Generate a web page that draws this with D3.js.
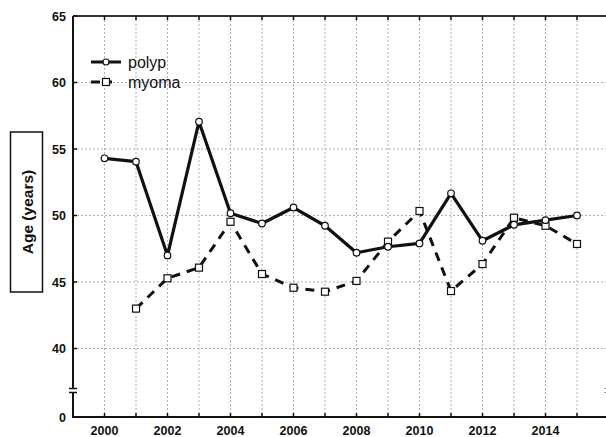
<!DOCTYPE html>
<html><head><meta charset="utf-8">
<script src="https://cdn.jsdelivr.net/npm/d3@7"></script>
<style>
body{margin:0;background:#fff;}
svg{display:block;font-family:"Liberation Sans",Arial,sans-serif;}
</style></head>
<body><svg id="c" width="606" height="437"></svg>
<script>
const years = [2000,2001,2002,2003,2004,2005,2006,2007,2008,2009,2010,2011,2012,2013,2014,2015];
const polyp = [54.3,54.05,47.0,57.05,50.17,49.4,50.6,49.23,47.2,47.65,47.9,51.67,48.1,49.3,49.65,50.0];
const myomaYears = [2001,2002,2003,2004,2005,2006,2007,2008,2009,2010,2011,2012,2013,2014,2015];
const myoma = [43.0,45.28,46.08,49.53,45.6,44.57,44.27,45.08,48.03,50.34,44.32,46.35,49.83,49.23,47.86];
const xTicks = [2000,2002,2004,2006,2008,2010,2012,2014];
const yTicks = [40,45,50,55,60,65];
const yBottomLabel = "0";
const seriesNames = ["polyp","myoma"];
const yLabel = "Age (years)";

const svg = d3.select("#c");
const L=73, R=608.5, T=16, B=417;
const x = d3.scaleLinear().domain([1999,2016]).range([L,R]);
const y = d3.scaleLinear().domain([34.85,65]).range([B,T]);

// grid
const g = svg.append("g");
const gridYears = d3.range(2000,2016);
g.selectAll(".vg").data(gridYears).join("line")
  .attr("x1",d=>x(d)).attr("x2",d=>x(d)).attr("y1",T).attr("y2",B)
  .attr("stroke","#b0b0b0").attr("stroke-width",1).attr("stroke-dasharray","2,2");
g.selectAll(".hg").data(yTicks.filter(v=>v<65)).join("line")
  .attr("x1",L).attr("x2",R).attr("y1",d=>y(d)).attr("y2",d=>y(d))
  .attr("stroke","#b0b0b0").attr("stroke-width",1).attr("stroke-dasharray","2,2");

// frame
svg.append("line").attr("x1",L).attr("x2",R+2).attr("y1",T).attr("y2",T).attr("stroke","#333").attr("stroke-width",2);
svg.append("line").attr("x1",L-1).attr("x2",R+2).attr("y1",B).attr("y2",B).attr("stroke","#111").attr("stroke-width",2);
// left axis with break
const brk1=388.5, brk2=392.5;
svg.append("line").attr("x1",L).attr("x2",L).attr("y1",T).attr("y2",brk1).attr("stroke","#111").attr("stroke-width",2);
svg.append("line").attr("x1",L).attr("x2",L).attr("y1",brk2).attr("y2",B).attr("stroke","#111").attr("stroke-width",2);
[brk1,brk2].forEach(v=>{
  svg.append("line").attr("x1",L-4).attr("x2",L+4).attr("y1",v).attr("y2",v).attr("stroke","#111").attr("stroke-width",1.5);
  svg.append("line").attr("x1",R-4).attr("x2",R+4).attr("y1",v).attr("y2",v).attr("stroke","#888").attr("stroke-width",1.2);
});

// ticks
svg.selectAll(".tt").data(gridYears).join("line")
  .attr("x1",d=>x(d)).attr("x2",d=>x(d)).attr("y1",T).attr("y2",T+4).attr("stroke","#111").attr("stroke-width",1.5);
svg.selectAll(".bt").data(gridYears).join("line")
  .attr("x1",d=>x(d)).attr("x2",d=>x(d)).attr("y1",B).attr("y2",B-4).attr("stroke","#111").attr("stroke-width",1.5);
svg.selectAll(".lt").data(yTicks).join("line")
  .attr("x1",L).attr("x2",L+4).attr("y1",d=>y(d)).attr("y2",d=>y(d)).attr("stroke","#111").attr("stroke-width",1.5);

// tick labels
svg.selectAll(".xl").data(xTicks).join("text")
  .attr("x",d=>x(d)).attr("y",434.5).attr("text-anchor","middle")
  .attr("font-size",12.5).attr("font-weight","bold").attr("fill","#111").text(d=>d);
svg.selectAll(".yl").data(yTicks).join("text")
  .attr("x",66).attr("y",d=>y(d)+4.5).attr("text-anchor","end")
  .attr("font-size",12.5).attr("font-weight","bold").attr("fill","#111").text(d=>d);
svg.append("text").attr("x",66).attr("y",B+4.5).attr("text-anchor","end")
  .attr("font-size",12.5).attr("font-weight","bold").attr("fill","#111").text(yBottomLabel);

// y label box
svg.append("rect").attr("x",10.5).attr("y",132).attr("width",32).attr("height",160)
  .attr("fill","none").attr("stroke","#111").attr("stroke-width",1.5);
svg.append("text").attr("transform","translate(33,212) rotate(-90)").attr("text-anchor","middle")
  .attr("font-size",15.5).attr("font-weight","bold").attr("fill","#111").text(yLabel);

// lines
const line = d3.line().x(d=>x(d[0])).y(d=>y(d[1]));
const myData = myomaYears.map((yr,i)=>[yr,myoma[i]]);
const poData = years.map((yr,i)=>[yr,polyp[i]]);
svg.append("path").attr("d",line(myData)).attr("fill","none").attr("stroke","#111")
  .attr("stroke-width",3).attr("stroke-dasharray","9,7");
svg.append("path").attr("d",line(poData)).attr("fill","none").attr("stroke","#111")
  .attr("stroke-width",3.2).attr("stroke-linejoin","round");
svg.selectAll(".sq").data(myData).join("rect")
  .attr("x",d=>x(d[0])-3.5).attr("y",d=>y(d[1])-3.5).attr("width",7).attr("height",7)
  .attr("fill","#fff").attr("stroke","#111").attr("stroke-width",1.2);
svg.selectAll(".ci").data(poData).join("circle")
  .attr("cx",d=>x(d[0])).attr("cy",d=>y(d[1])).attr("r",3.3)
  .attr("fill","#fff").attr("stroke","#111").attr("stroke-width",1.2);

// legend
const lg = svg.append("g");
lg.append("line").attr("x1",91).attr("x2",121).attr("y1",62).attr("y2",62).attr("stroke","#111").attr("stroke-width",3);
lg.append("circle").attr("cx",106).attr("cy",62).attr("r",3).attr("fill","#fff").attr("stroke","#111").attr("stroke-width",1.2);
lg.append("line").attr("x1",91).attr("x2",112).attr("y1",82).attr("y2",82).attr("stroke","#111").attr("stroke-width",3).attr("stroke-dasharray","9,5");
lg.append("rect").attr("x",102.5).attr("y",78.5).attr("width",7).attr("height",7).attr("fill","#fff").attr("stroke","#111").attr("stroke-width",1.2);
lg.append("text").attr("x",128).attr("y",67.5).attr("font-size",16).attr("fill","#111").text(seriesNames[0]);
lg.append("text").attr("x",128).attr("y",87.5).attr("font-size",16).attr("fill","#111").text(seriesNames[1]);
</script></body></html>
